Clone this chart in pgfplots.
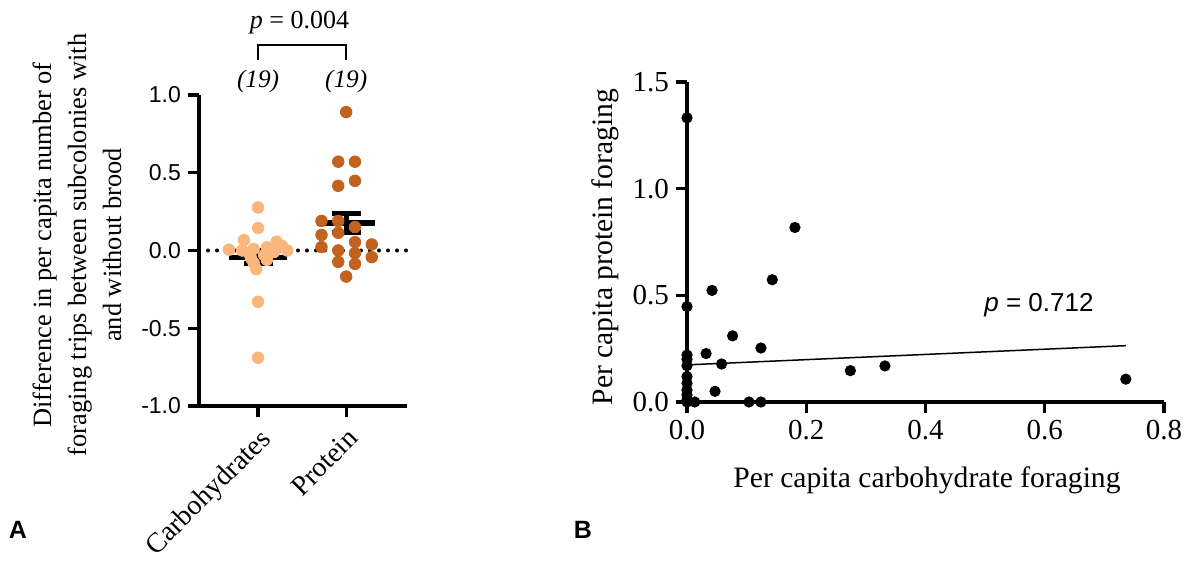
\documentclass[border=0pt]{standalone}
\usepackage{fontspec}
\setmainfont{Liberation Serif}
\setsansfont{Liberation Sans}
\usepackage{pgfplots}
\pgfplotsset{compat=1.18}
\definecolor{carbo}{RGB}{250,182,125}
\definecolor{prot}{RGB}{193,98,30}

% panel A: beeswarm offset, value
\pgfplotstableread{
x y
0 0.276
0 0.144
-0.16 0.067
0.21 0.056
-0.33 0.005
-0.18 0.0
-0.05 0.01
0.1 0.02
0.27 0.03
0.33 0.0
0.18 -0.01
-0.1 -0.02
0.07 -0.03
-0.08 -0.05
0.1 -0.06
-0.05 -0.08
-0.02 -0.12
0 -0.33
0 -0.69
}\carbtab
\pgfplotstableread{
x y
1 0.89
0.91 0.571
1.10 0.571
0.91 0.416
1.10 0.448
0.72 0.19
0.91 0.19
1.10 0.151
0.72 0.10
0.91 0.114
0.72 0.022
0.91 0.0
1.10 0.054
1.29 0.039
1.10 -0.017
1.29 -0.043
0.91 -0.073
1.10 -0.086
1 -0.168
}\prottab
% panel B
\pgfplotstableread{
x y
0 1.332
0.181 0.818
0.143 0.573
0.042 0.523
0 0.447
0.0765 0.31
0.124 0.253
0.032 0.227
0 0.22
0 0.20
0 0.17
0.058 0.178
0.274 0.147
0.332 0.169
0.736 0.107
0.047 0.05
0 0.119
0 0.088
0 0.056
0 0.033
0 0.01
0.013 0
0.104 0
0.124 0
0 0
}\scattab

\begin{document}
\begin{tikzpicture}
\path[use as bounding box] (0,0) rectangle (592.5pt,282.5pt);

\begin{axis}[at={(99.5pt,79.5pt)},anchor=south west,scale only axis,width=104pt,height=155.5pt,
 xmin=-0.67,xmax=1.69,ymin=-1,ymax=1,
 axis x line*=bottom,axis y line*=left,axis line style={-,line width=1.6pt},
 every tick/.style={black,line width=1.6pt},tick align=outside,major tick length=5.5pt,
 xtick={0,1},xticklabels={Carbohydrates,Protein},
 ytick={-1,-0.5,0,0.5,1},yticklabels={-1.0,-0.5,0.0,0.5,1.0},
 yticklabel style={font=\sffamily\fontsize{11.5}{13}\selectfont},
 xticklabel style={font=\fontsize{14}{16}\selectfont,rotate=45,anchor=north east},
 clip=false]
\addplot[black,line width=2pt,dash pattern=on 0pt off 4.5pt,line cap=round] coordinates {(-0.67,0) (1.69,0)};
\addplot[only marks,mark=*,mark size=2.9pt,color=carbo,mark options={fill=carbo,draw=carbo}] table {\carbtab};
\addplot[only marks,mark=*,mark size=2.9pt,color=prot,mark options={fill=prot,draw=prot}] table {\prottab};
% mean and SEM
\addplot[black,line width=2.6pt] coordinates {(-0.33,-0.043) (0.33,-0.043)};
\addplot[black,line width=2.6pt] coordinates {(-0.165,0) (0.165,0)};
\addplot[black,line width=2.6pt] coordinates {(-0.165,-0.086) (0.165,-0.086)};
\addplot[black,line width=2.6pt] coordinates {(0,0) (0,-0.086)};
\addplot[black,line width=2.6pt] coordinates {(0.67,0.177) (1.33,0.177)};
\addplot[black,line width=2.6pt] coordinates {(0.835,0.237) (1.165,0.237)};
\addplot[black,line width=2.6pt] coordinates {(0.835,0.114) (1.165,0.114)};
\addplot[black,line width=2.6pt] coordinates {(1,0.237) (1,0.114)};
\draw[line width=0.8pt] (axis cs:0,1.228) |- (axis cs:1,1.32) -- (axis cs:1,1.228);
\node[font=\itshape\fontsize{12.6}{14}\selectfont] at (axis cs:0,1.087) {(19)};
\node[font=\itshape\fontsize{12.6}{14}\selectfont] at (axis cs:1,1.087) {(19)};
\node[font=\fontsize{13}{15}\selectfont] at (axis cs:0.47,1.465) {\textit{p} = 0.004};
\end{axis}
\node[rotate=90,align=center,font=\fontsize{13.2}{17.5}\selectfont] at (38.5pt,160pt)
 {Difference in per capita number of\\foraging trips between subcolonies with\\and without brood};

\begin{axis}[at={(343.5pt,81.5pt)},anchor=south west,scale only axis,width=238.5pt,height=160pt,
 xmin=0,xmax=0.8,ymin=0,ymax=1.5,
 axis x line*=bottom,axis y line*=left,axis line style={-,line width=1.6pt},
 every tick/.style={black,line width=1.6pt},tick align=outside,major tick length=5.5pt,
 xtick={0,0.2,0.4,0.6,0.8},xticklabels={0.0,0.2,0.4,0.6,0.8},
 ytick={0,0.5,1,1.5},yticklabels={0.0,0.5,1.0,1.5},
 ticklabel style={font=\fontsize{14.5}{16}\selectfont},
 clip=false]
\addplot[black,line width=0.75pt] coordinates {(0,0.174) (0.736,0.264)};
\addplot[only marks,mark=*,mark size=2.6pt,black] table {\scattab};
\end{axis}
\node[font=\fontsize{14.8}{17}\selectfont] at (463.5pt,42.5pt) {Per capita carbohydrate foraging};
\node[rotate=90,font=\fontsize{14.8}{17}\selectfont] at (302.5pt,159pt) {Per capita protein foraging};
\node[font=\sffamily\fontsize{13}{15}\selectfont] at (519.5pt,130pt) {\textit{p} = 0.712};
\node[font=\sffamily\bfseries\fontsize{12.5}{14}\selectfont] at (9pt,17.5pt) {A};
\node[font=\sffamily\bfseries\fontsize{12.5}{14}\selectfont] at (291.5pt,17.5pt) {B};
\end{tikzpicture}
\end{document}
